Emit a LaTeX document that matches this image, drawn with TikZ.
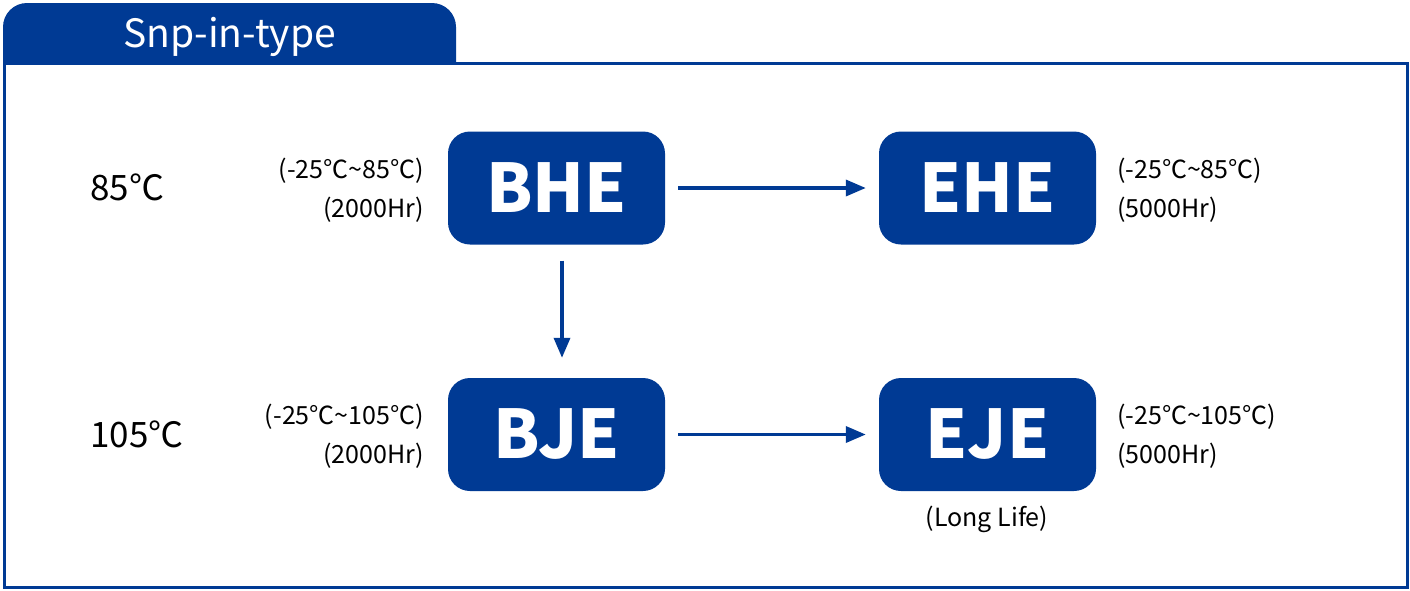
\documentclass[tikz,border=0pt]{standalone}
\usepackage{fontspec}
\setmainfont{Noto Sans CJK KR}
\usetikzlibrary{arrows.meta}
\definecolor{brand}{HTML}{003A94}
\newcommand{\tld}{\char"007E\relax}
\begin{document}
\begin{tikzpicture}[x=1pt,y=-1pt,
  box/.style={rounded corners=22pt, fill=brand, minimum width=217pt, minimum height=113pt,
    text=white, inner sep=0pt, font=\bfseries\fontsize{67}{67}\selectfont},
  small/.style={inner sep=0pt, font=\fontsize{25}{25}\selectfont, text=black},
  temp/.style={inner sep=0pt, font=\fontsize{35}{35}\selectfont, text=black, anchor=base west},
  arr/.style={draw=brand, line width=3.5pt, -{Triangle[length=20pt,width=16pt]}}]
\useasboundingbox (0,0) rectangle (1410,590);
\fill[white] (0,0) rectangle (1410,590);
% tab
\begin{scope}
  \clip (0,0) rectangle (1410,63);
  \fill[brand, rounded corners=24pt] (3,3) rectangle (456,120);
\end{scope}
\node[inner sep=0pt, anchor=base, text=white, font=\fontsize{39}{39}\selectfont] (title) at (229.5,47) {Snp-in-type};
% frame
\draw[brand, line width=3pt] (4,63) rectangle (1407,587);
% boxes
\node[box] (bhe) at (556.5,188) {BHE};
\node[box] (ehe) at (987.5,188) {EHE};
\node[box] (bje) at (556.5,434.5) {BJE};
\node[box] (eje) at (987.5,434.5) {EJE};
% temperature labels
\node[temp] (t85) at (90,200) {85℃};
\node[temp] (t105) at (90,447) {105℃};
% left labels
\node[small, anchor=base east] (l1a) at (424,178) {(-25℃\tld 85℃)};
\node[small, anchor=base east] (l1b) at (424,217) {(2000Hr)};
\node[small, anchor=base east] (l2a) at (424,424) {(-25℃\tld 105℃)};
\node[small, anchor=base east] (l2b) at (424,463) {(2000Hr)};
% right labels
\node[small, anchor=base west] (r1a) at (1117,178) {(-25℃\tld 85℃)};
\node[small, anchor=base west] (r1b) at (1117,217) {(5000Hr)};
\node[small, anchor=base west] (r2a) at (1117,424) {(-25℃\tld 105℃)};
\node[small, anchor=base west] (r2b) at (1117,463) {(5000Hr)};
\node[small, anchor=base] (ll) at (987,526) {(Long Life)};
% arrows
\draw[arr] ([xshift=13pt]bhe.east) -- ([xshift=-13pt]ehe.west);
\draw[arr] ([xshift=13pt]bje.east) -- ([xshift=-13pt]eje.west);
\draw[arr] ([xshift=5.5pt,yshift=-16pt]bhe.south) -- ([xshift=5.5pt,yshift=20pt]bje.north);
\end{tikzpicture}
\end{document}
